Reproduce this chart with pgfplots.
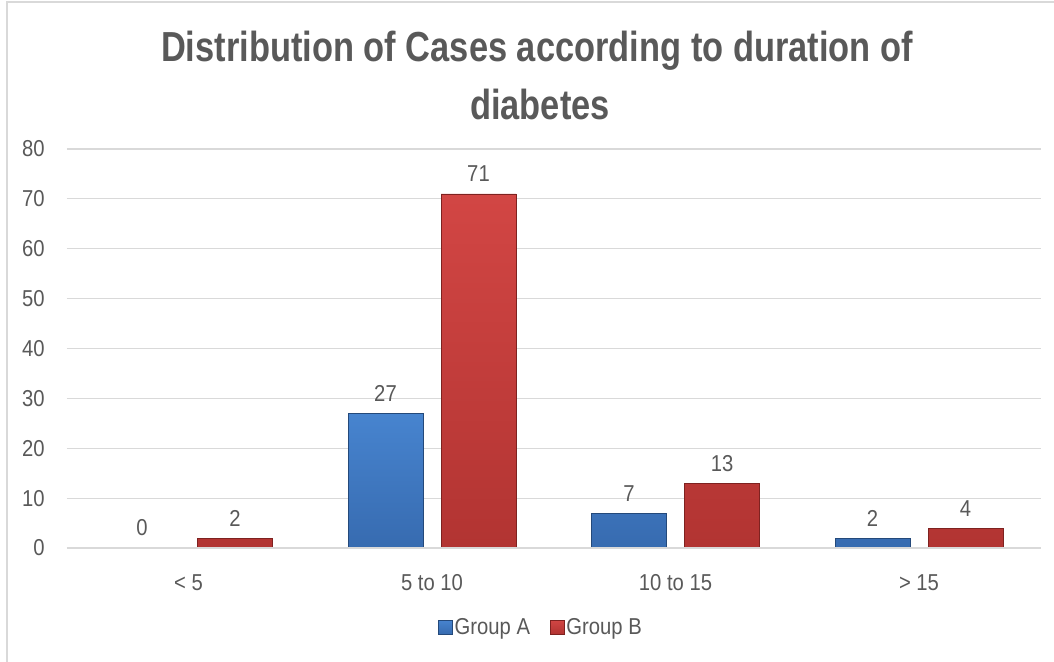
\documentclass[border=0pt]{standalone}
\usepackage{fontspec}
\setmainfont{Liberation Sans}[FakeStretch=0.82]
\newfontfamily\narrowfont{Liberation Sans}[FakeStretch=0.88]
\usepackage{pgfplots}
\pgfplotsset{compat=1.18}
\definecolor{txt}{HTML}{595959}
\definecolor{gridgray}{HTML}{D9D9D9}
\definecolor{blueA}{HTML}{4784CF}
\definecolor{blueAd}{HTML}{376BB0}
\definecolor{blueEdge}{HTML}{24497A}
\definecolor{redB}{HTML}{D24644}
\definecolor{redBd}{HTML}{B23432}
\definecolor{redEdge}{HTML}{7E2220}
\begin{document}
\begin{tikzpicture}[x=1pt,y=1pt]
\useasboundingbox (0,0) rectangle (1054,661);
\draw[gridgray, line width=1.5pt] (7,-5) -- (7,659) -- (1060,659);
\node[text=txt, font=\fontsize{42}{50}\selectfont\bfseries, anchor=base] at (537,599) {Distribution of Cases according to duration of};
\node[text=txt, font=\fontsize{42}{50}\selectfont\bfseries, anchor=base] at (540,541) {diabetes};
\begin{axis}[
  at={(66.75pt,113pt)}, anchor=south west,
  scale only axis, width=974pt, height=399pt,
  xmin=-0.5, xmax=3.5, ymin=0, ymax=80,
  ybar=18pt, bar width=75pt,
  axis line style={draw=none},
  xmajorgrids=false, ymajorgrids=true,
  grid style={draw=gridgray, line width=1.2pt},
  ytick={0,10,...,80},
  xtick={0,1,2,3},
  xticklabels={{< 5},{5 to 10},{10 to 15},{> 15}},
  major tick length=0pt,
  tick style={draw=none},
  tick label style={text=txt, font=\narrowfont\fontsize{23}{27}\selectfont},
  /pgf/number format/assume math mode=true,
  yticklabel style={anchor=east, inner sep=0pt, xshift=-22pt},
  xticklabel style={anchor=base, inner sep=0pt, yshift=-42pt},
  nodes near coords,
  every node near coord/.append style={text=txt, font=\narrowfont\fontsize{23}{27}\selectfont, anchor=base, inner sep=0pt, yshift=12pt},
  legend style={draw=none, at={(0.487,-0.198)}, anchor=center, legend columns=2,
     font=\narrowfont\fontsize{23}{27}\selectfont, text=txt, inner sep=0pt,
     /tikz/every even column/.append style={column sep=18pt}},
  legend cell align=left,
  clip=false,
]
\addplot[draw=blueEdge, top color=blueA, bottom color=blueAd,
  legend image code/.code={\draw[draw=blueEdge, top color=blueA, bottom color=blueAd] (0pt,-7pt) rectangle (14pt,7pt);}]
  coordinates {(0,0) (1,27) (2,7) (3,2)};
\addplot[draw=redEdge, top color=redB, bottom color=redBd,
  legend image code/.code={\draw[draw=redEdge, top color=redB, bottom color=redBd] (0pt,-7pt) rectangle (14pt,7pt);}]
  coordinates {(0,2) (1,71) (2,13) (3,4)};
\draw[gridgray, line width=1.5pt] (axis cs:-0.5,0) -- (axis cs:3.5,0);
\legend{Group A, Group B}
\end{axis}
\end{tikzpicture}
\end{document}
